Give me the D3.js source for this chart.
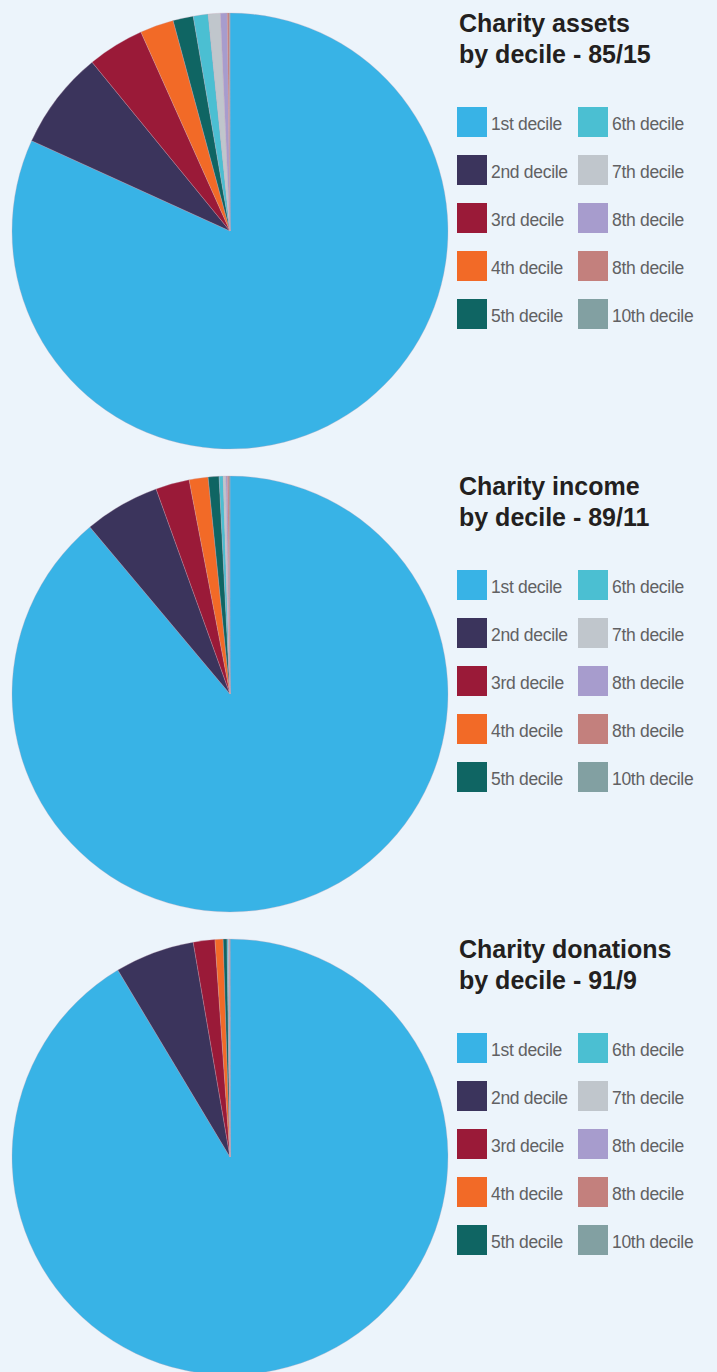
<!DOCTYPE html>
<html>
<head>
<meta charset="utf-8">
<script src="https://cdn.jsdelivr.net/npm/d3@7"></script>
<style>
  body { margin: 0; background: #ecf4fb; }
  svg { display: block; }
  .title { font-family: "Liberation Sans", Arial, sans-serif; font-weight: bold; font-size: 25px; fill: #231f20; }
  .legend-label { font-family: "Liberation Sans", Arial, sans-serif; font-size: 17.5px; fill: #616163; letter-spacing: -0.3px; }
</style>
</head>
<body>
<svg id="chart"></svg>
<script>
// legend labels, as printed (the 9th is labelled "8th decile" in the original)
const deciles = ["1st decile", "2nd decile", "3rd decile", "4th decile", "5th decile",
                 "6th decile", "7th decile", "8th decile", "8th decile", "10th decile"];
const colors = ["#38b3e6", "#3b345c", "#9a1a38", "#f26a27", "#0f6563",
                "#4bbfd2", "#c0c6cc", "#a79ccd", "#c3807d", "#82a0a2"];

// share of total (%) per decile
const assets    = [81.8, 7.3, 4.2, 2.5, 1.5, 1.1, 0.9, 0.5, 0.15, 0.05];
const income    = [88.8, 5.6, 2.5, 1.4, 0.8, 0.3, 0.2, 0.12, 0.1, 0.08];
const donations = [91.4, 5.9, 1.6, 0.6, 0.28, 0.1, 0.06, 0.03, 0.02, 0.01];

const titles = [["Charity assets", "by decile - 85/15"],
                ["Charity income", "by decile - 89/11"],
                ["Charity donations", "by decile - 91/9"]];
const series = [assets, income, donations];

const width = 717, height = 1372;
const panelH = 463;
const radius = 218;

const svg = d3.select("#chart").attr("width", width).attr("height", height);

const pie = d3.pie().sort(null).value(d => d);
const arc = d3.arc().innerRadius(0).outerRadius(radius);
const color = d3.scaleOrdinal().domain(d3.range(deciles.length)).range(colors);

series.forEach((data, p) => {
    const panel = svg.append("g").attr("transform", "translate(0," + (p * panelH) + ")");

    panel.append("g")
        .attr("transform", "translate(230,231)")
        .selectAll("path")
        .data(pie(data))
        .join("path")
        .attr("d", arc)
        .attr("fill", (d, i) => color(i))
        .attr("stroke", "#c9a6b8")
        .attr("stroke-width", 0.3);

    const t = panel.append("text").attr("class", "title").attr("x", 459).attr("y", 32);
    titles[p].forEach((line, j) => {
        t.append("tspan").attr("x", 459).attr("dy", j === 0 ? 0 : 31).text(line);
    });

    const legend = panel.append("g").attr("transform", "translate(457,107)");
    const items = legend.selectAll("g")
        .data(deciles)
        .join("g")
        .attr("transform", (d, i) => "translate(" + (i < 5 ? 0 : 121) + "," + ((i % 5) * 48) + ")");
    items.append("rect")
        .attr("width", 30).attr("height", 30)
        .attr("fill", (d, i) => color(i));
    items.append("text")
        .attr("class", "legend-label")
        .attr("x", 34).attr("y", 23)
        .text(d => d);
});
</script>
</body>
</html>
